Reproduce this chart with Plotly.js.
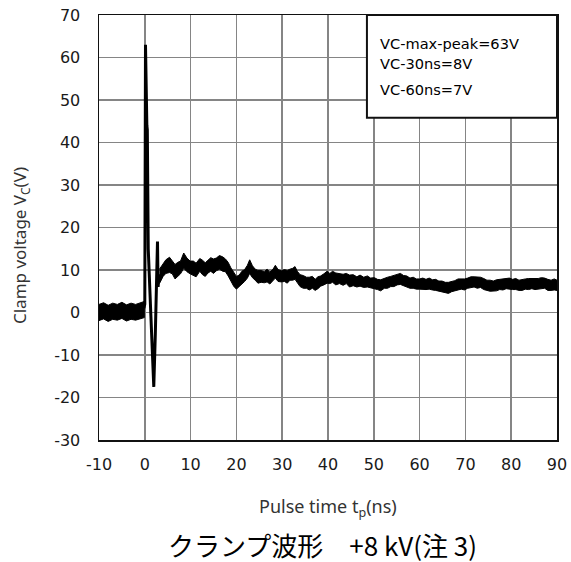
<!DOCTYPE html>
<html><head><meta charset="utf-8">
<script src="https://cdn.plot.ly/plotly-3.0.1.min.js"></script>
<style>html,body{margin:0;padding:0;background:#fff}#chart{width:571px;height:562px}</style>
</head><body><div id="chart"></div>
<script>
// Baseline before the pulse (noise band envelope)
var baseT  = [-10, -9, -8, -7, -6, -5, -4, -3, -2, -1, -0.1];
var baseHi = [1.9, 2.3, 1.7, 2.2, 1.9, 2.4, 1.8, 2.2, 1.9, 2.3, 2.6];
var baseLo = [-1.9, -1.5, -2.1, -1.6, -1.8, -1.4, -2.0, -1.6, -1.8, -1.5, -1.2];

// Fast clamp transient
var spikeT = [-0.2, 0.0, 0.15, 0.25, 0.35, 0.45, 0.55, 0.65, 0.75, 1.3, 1.96, 2.3, 2.77, 2.9, 3.05, 3.3];
var spikeV = [1.0, 2.0, 63, 51, 50, 44, 43, 32, 15, 0, -17.5, -5, 16.7, 6, 8, 9];

// Settled waveform: centre of noise band and its half-thickness
var bandT = [3.2,4.0,4.6,5.4,6.0,6.6,7.2,7.8,8.5,9.2,9.9,10.6,11.2,12.0,12.6,13.2,13.8,14.4,15.0,15.6,16.3,17.0,17.6,18.2,18.8,19.4,20.0,20.6,21.2,21.8,22.4,22.9,23.5,24.1,24.7,25.4,26.1,26.7,27.3,28.0,28.5,29.1,29.8,30.5,31.1,31.7,32.3,32.8,33.3,33.9,34.6,35.3,35.9,36.6,37.2,37.8,38.4,39.1,39.8,40.4,41.0,41.7,42.5,43.3,44.0,44.7,45.5,46.3,47.0,47.8,48.6,49.3,50.1,50.8,51.5,52.3,53.0,53.7,54.4,55.1,55.8,56.5,57.2,57.9,58.6,59.3,60.0,60.7,61.4,62.1,62.8,63.5,64.2,64.9,65.6,66.3,67.0,67.7,68.4,69.1,69.8,70.5,71.2,71.9,72.6,73.3,74.0,74.7,75.4,76.1,76.8,77.5,78.2,78.9,79.6,80.3,81.0,81.7,82.4,83.1,83.8,84.5,85.2,85.9,86.6,87.3,88.0,88.7,89.4,90.0];
var bandV = [8.5,10.0,10.8,11.2,10.6,9.6,10.2,10.6,12.2,11.2,10.6,10.4,10.0,11.2,10.6,10.1,10.8,11.3,10.9,11.3,11.8,11.4,11.1,10.2,9.0,7.8,7.0,7.4,8.2,8.7,9.6,10.8,9.6,8.9,8.4,8.5,8.3,8.7,8.1,8.9,9.6,8.7,8.5,8.7,8.4,8.9,9.0,9.3,8.4,7.5,7.2,7.0,6.8,7.1,6.5,7.0,7.4,7.8,8.3,8.0,8.4,7.9,8.0,7.7,8.0,7.4,7.6,7.2,7.5,7.1,7.3,6.9,6.9,6.6,6.4,6.9,7.0,7.3,7.4,7.7,7.9,7.5,7.3,6.9,7.0,6.7,6.7,6.8,6.6,6.8,6.5,6.5,6.2,6.1,5.9,5.8,6.1,6.3,6.6,6.7,6.6,6.9,7.1,7.2,7.0,7.1,6.7,6.4,6.3,6.2,6.4,6.6,6.6,6.8,6.8,6.6,6.7,6.4,6.5,6.7,6.7,6.8,6.7,6.8,6.9,6.9,6.5,6.4,6.6,6.4];
var bandW = [1.7,1.5,1.6,1.8,1.5,1.7,1.6,1.5,1.8,1.6,1.5,1.7,1.6,1.5,1.7,1.6,1.5,1.6,1.7,1.5,1.6,1.7,1.5,1.6,1.5,1.6,1.5,1.4,1.5,1.4,1.5,1.6,1.4,1.3,1.5,1.4,1.3,1.5,1.4,1.3,1.5,1.4,1.3,1.4,1.5,1.3,1.4,1.5,1.3,1.4,1.5,1.3,1.5,1.4,1.3,1.4,1.2,1.3,1.4,1.2,1.3,1.4,1.2,1.3,1.2,1.4,1.3,1.2,1.3,1.2,1.3,1.2,1.3,1.2,1.3,1.2,1.3,1.2,1.3,1.2,1.3,1.2,1.3,1.2,1.3,1.2,1.2,1.3,1.2,1.3,1.2,1.3,1.2,1.3,1.2,1.3,1.2,1.2,1.3,1.2,1.3,1.2,1.3,1.2,1.3,1.2,1.3,1.2,1.3,1.2,1.3,1.2,1.3,1.2,1.3,1.2,1.3,1.2,1.3,1.2,1.3,1.2,1.3,1.2,1.3,1.2,1.3,1.2,1.3,1.2,1.3,1.2];

var xTicks = [-10,0,10,20,30,40,50,60,70,80,90];
var yTicks = [-30,-20,-10,0,10,20,30,40,50,60,70];
var noteLines = ['VC-max-peak=63V', 'VC-30ns=8V', 'VC-60ns=7V'];

function envelope(t, hi, lo) {
  return {x: t.concat(t.slice().reverse()), y: hi.concat(lo.slice().reverse())};
}
var bandHi = bandV.map(function(v,i){return v + bandW[i];});
var bandLo = bandV.map(function(v,i){return v - bandW[i];});
var e1 = envelope(baseT, baseHi, baseLo);
var e2 = envelope(bandT, bandHi, bandLo);

var traces = [
  {x: e1.x, y: e1.y, type: 'scatter', mode: 'lines', fill: 'toself', fillcolor: '#000',
   line: {color: '#000', width: 1}, hoverinfo: 'skip', showlegend: false},
  {x: e2.x, y: e2.y, type: 'scatter', mode: 'lines', fill: 'toself', fillcolor: '#000',
   line: {color: '#000', width: 1}, hoverinfo: 'skip', showlegend: false},
  {x: spikeT, y: spikeV, type: 'scatter', mode: 'lines',
   line: {color: '#000', width: 3}, showlegend: false}
];

var tickFont = {family: 'DejaVu Sans, Verdana, sans-serif', size: 16, color: '#1a1a1a'};
var annotations = [
  {text: 'Clamp voltage V<sub>C</sub>(V)', xref: 'paper', yref: 'paper', x: -0.171, y: 0.458,
   xanchor: 'center', yanchor: 'middle', textangle: -90, showarrow: false,
   font: {family: 'Noto Sans, sans-serif', size: 17, color: '#333'}},
  {text: 'Pulse time t<sub>p</sub>(ns)', xref: 'paper', yref: 'paper', x: 0.5, y: -0.158,
   xanchor: 'center', yanchor: 'middle', showarrow: false,
   font: {family: 'Noto Sans, sans-serif', size: 18, color: '#333'}},
  {text: 'クランプ波形　+8 kV(注 3)', xref: 'paper', yref: 'paper', x: 0.489, y: -0.247,
   xanchor: 'center', yanchor: 'middle', showarrow: false,
   font: {family: 'Noto Sans CJK JP, sans-serif', size: 26, color: '#000'}}
];
var noteY = [0.934, 0.886, 0.824];
noteLines.forEach(function(s, i){
  annotations.push({text: s, xref: 'paper', yref: 'paper', x: 0.609, y: noteY[i],
    xanchor: 'left', yanchor: 'middle', showarrow: false,
    font: {family: 'DejaVu Sans, sans-serif', size: 14.6, color: '#000'}});
});

var layout = {
  width: 571, height: 562,
  margin: {l: 98.5, r: 13.5, t: 15, b: 122},
  paper_bgcolor: '#fff', plot_bgcolor: '#fff',
  xaxis: {range: [-10, 90], tickvals: xTicks, ticktext: xTicks.map(String),
    showgrid: true, gridcolor: '#858585', gridwidth: 1.5, zeroline: false,
    showline: true, mirror: true, linecolor: '#111', linewidth: 1.5,
    ticks: '', ticklabelstandoff: 9, tickfont: tickFont},
  yaxis: {range: [-30, 70], tickvals: yTicks, ticktext: yTicks.map(String),
    showgrid: true, gridcolor: '#858585', gridwidth: 1.5, zeroline: false,
    showline: true, mirror: true, linecolor: '#111', linewidth: 1.5,
    ticks: '', ticklabelstandoff: 14, tickfont: tickFont},
  shapes: [
    {type: 'rect', xref: 'paper', yref: 'paper', x0: 0.585, x1: 1, y0: 0.758, y1: 1,
     fillcolor: '#fff', line: {color: '#111', width: 2}, layer: 'above'}
  ],
  annotations: annotations,
  showlegend: false
};

Plotly.newPlot('chart', traces, layout, {staticPlot: true, displayModeBar: false});
</script></body></html>
